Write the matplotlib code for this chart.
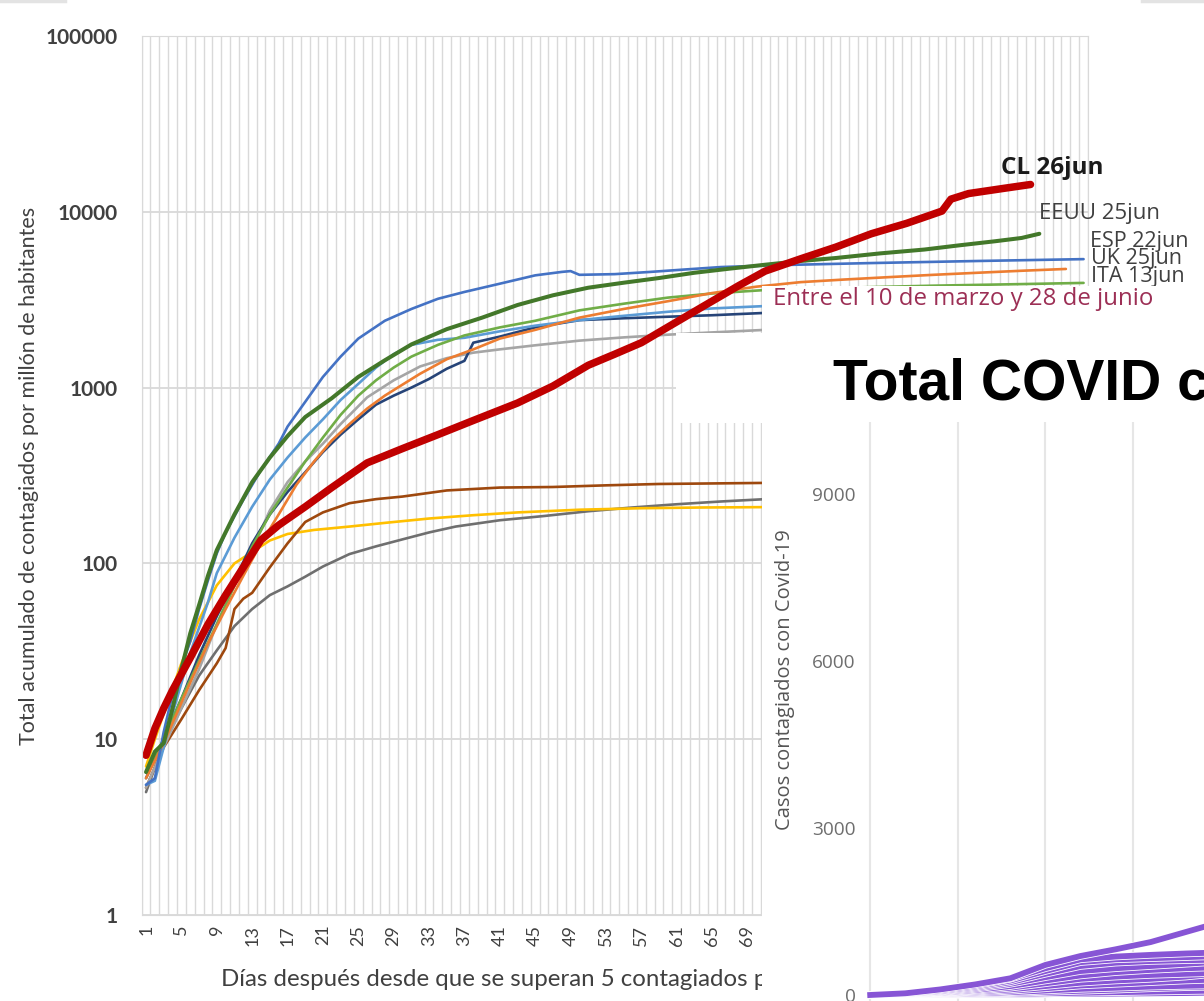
import matplotlib
matplotlib.use("Agg")
import matplotlib.pyplot as plt
from matplotlib.patches import Rectangle
from matplotlib.lines import Line2D
from matplotlib.ticker import NullLocator
from matplotlib import patheffects

plt.rcParams["font.family"] = ["Lato", "DejaVu Sans"]

W, H = 1204, 1001

# Total acumulado de contagiados por millón de habitantes,
# por días desde que se superan 5 contagiados por millón
cl_days = [1, 2, 3, 4, 6, 8, 10, 12, 14, 16, 19, 22, 26, 30, 34, 38, 43, 47, 51, 54,
           57, 60, 64, 68, 71, 75, 79, 83, 87, 90, 91, 92, 94, 98, 101]
cl = [8.1, 11.5, 15, 19, 29, 45, 66, 95, 136, 165, 210, 270, 373, 450, 540, 650, 817,
      1020, 1340, 1550, 1800, 2210, 2900, 3800, 4600, 5400, 6300, 7500, 8600, 9700,
      10100, 11800, 12700, 13600, 14300]

eeuu_days = [1, 2, 3, 4, 5, 6, 7, 8, 9, 11, 13, 15, 17, 19, 22, 25, 28, 31, 35, 39, 43,
             47, 51, 55, 59, 63, 67, 71, 75, 79, 84, 89, 93, 97, 100, 102]
eeuu = [6.5, 8.5, 9.5, 15, 25, 40, 58, 85, 119, 190, 290, 400, 530, 680, 870, 1150,
        1430, 1760, 2150, 2500, 2950, 3350, 3700, 3950, 4200, 4500, 4750, 5000, 5250,
        5460, 5800, 6100, 6450, 6800, 7100, 7500]

esp_days = [1, 2, 3, 4, 5, 6, 7, 8, 9, 10, 12, 14, 16, 17, 19, 21, 23, 25, 28, 31, 34,
            37, 41, 45, 48, 49, 50, 54, 58, 62, 66, 73, 83, 95, 107]
esp = [5.5, 6.0, 11, 18, 26, 36, 55, 80, 114, 150, 230, 340, 480, 600, 830, 1150, 1500,
       1900, 2400, 2800, 3200, 3500, 3900, 4350, 4550, 4600, 4380, 4420, 4550, 4700,
       4850, 4980, 5110, 5250, 5380]

uk_days = [1, 3, 6, 8, 10, 12, 14, 16, 18, 20, 22, 24, 26, 28, 30, 32, 35, 38, 41, 45,
           50, 55, 60, 65, 70, 75, 80, 85, 90, 95, 100, 105]
uk = [6, 9.5, 21, 35, 55, 85, 130, 190, 280, 380, 500, 620, 760, 900, 1040, 1200, 1450,
      1650, 1900, 2130, 2500, 2800, 3100, 3450, 3750, 3980, 4120, 4250, 4380, 4500,
      4620, 4730]

ita_days = [1, 3, 5, 7, 9, 11, 13, 15, 17, 19, 21, 23, 25, 27, 29, 31, 34, 37, 41, 45,
            50, 55, 60, 65, 71, 80, 90, 100, 107]
ita = [6.5, 10, 17, 28, 45, 75, 125, 190, 270, 380, 520, 700, 900, 1100, 1300, 1500,
       1750, 1980, 2200, 2400, 2750, 3000, 3250, 3430, 3590, 3700, 3800, 3880, 3940]

azul_claro_days = [1, 2, 3, 4, 6, 8, 9, 11, 13, 15, 17, 19, 21, 23, 25, 27, 29, 31, 34,
                   37, 41, 45, 50, 55, 60, 65, 71, 76]
azul_claro = [5.5, 5.8, 9, 14, 31, 60, 88, 140, 210, 300, 400, 520, 660, 850, 1050, 1300,
              1550, 1750, 1870, 1920, 2090, 2250, 2420, 2560, 2700, 2820, 2910, 2980]

azul_osc_days = [1, 3, 5, 7, 9, 11, 13, 15, 17, 19, 21, 23, 25, 27, 29, 31, 33, 35, 37,
                 38, 41, 45, 50, 55, 60, 65, 71, 76]
azul_osc = [6, 10, 17, 30, 50, 80, 130, 190, 255, 330, 430, 540, 660, 800, 900, 1000,
            1120, 1280, 1420, 1800, 1950, 2200, 2420, 2480, 2530, 2580, 2660, 2700]

gris_days = [1, 3, 5, 7, 9, 11, 13, 15, 17, 19, 21, 23, 26, 29, 32, 35, 38, 41, 45, 50,
             55, 60, 65, 71, 76]
gris = [5.3, 9, 15, 25, 45, 75, 120, 200, 290, 380, 480, 620, 880, 1100, 1320, 1470,
        1580, 1650, 1740, 1850, 1930, 2000, 2060, 2130, 2160]

cafe_days = [1, 3, 5, 7, 9, 10, 11, 12, 13, 15, 17, 19, 21, 24, 27, 30, 35, 41, 47, 53,
             59, 65, 71, 76]
cafe = [5.3, 9, 13, 19, 27, 33, 55, 63, 68, 95, 130, 172, 195, 220, 232, 240, 260, 270,
        272, 278, 283, 285, 287, 288]

amarillo_days = [1, 2, 3, 5, 7, 9, 11, 13, 15, 17, 20, 24, 28, 33, 38, 43, 50, 57, 64,
                 71, 76]
amarillo = [7, 10, 14, 27, 48, 75, 100, 116, 135, 147, 155, 162, 170, 180, 188, 195, 202,
            206, 208, 209, 210]

gris_osc_days = [1, 3, 5, 7, 9, 11, 13, 15, 17, 19, 21, 24, 27, 30, 33, 36, 41, 46, 51,
                 56, 61, 66, 71, 76]
gris_osc = [5, 9.5, 15, 23, 32, 44, 55, 66, 74, 84, 96, 113, 125, 137, 150, 162, 176,
            186, 198, 208, 217, 225, 232, 236]

y_ticks = [1, 10, 100, 1000, 10000, 100000]
x_ticks = list(range(1, 108, 4))

labels = ["CL 26jun", "EEUU 25jun", "ESP 22jun", "UK 25jun", "ITA 13jun"]

# Casos contagiados con Covid-19 (gráfico superpuesto)
dias_region = [0, 4, 8, 12, 16, 20, 24, 28, 32, 36, 38]
casos_region = [
    [0, 30, 100, 190, 300, 540, 700, 820, 950, 1130, 1220],
    [0, 25, 85, 170, 290, 480, 640, 690, 720, 745, 755],
    [0, 20, 70, 150, 260, 430, 590, 640, 660, 680, 690],
    [0, 18, 60, 130, 230, 380, 520, 580, 610, 625, 630],
    [0, 15, 50, 110, 200, 320, 430, 480, 520, 560, 580],
    [0, 12, 40, 90, 160, 260, 350, 410, 450, 480, 490],
    [0, 10, 35, 75, 130, 210, 290, 330, 360, 380, 390],
    [0, 8, 28, 60, 100, 160, 220, 260, 290, 330, 360],
    [0, 6, 22, 45, 75, 120, 170, 200, 230, 260, 270],
    [0, 5, 15, 30, 50, 80, 110, 130, 150, 165, 170],
    [0, 3, 10, 20, 35, 55, 75, 95, 120, 140, 145],
    [0, 2, 6, 12, 20, 30, 40, 50, 60, 70, 75],
    [0, 1, 3, 6, 10, 15, 20, 25, 30, 35, 40],
]
casos_rm = [0, 1, 3, 8, 20, 50, 90, 120, 170, 180, 185]


def fx(x):
    return x / W


def fy(y):
    return 1 - y / H


fig = plt.figure(figsize=(W / 100, H / 100), dpi=100)

# ---- main log chart ----
ax = fig.add_axes([fx(141.6), fy(915), (1088 - 141.6) / W, (915 - 36) / H])
ax.set_yscale("log")
ax.set_ylim(1, 100000)
ax.set_xlim(0.5, 107.5)

grid_c = "#d9d9d9"
ax.set_xticks(x_ticks)
ax.set_xticklabels([str(d) for d in x_ticks], rotation=90, fontsize=13, color="#404040")
ax.set_xticks([d + 0.5 for d in range(0, 108)], minor=True)
ax.set_yticks(y_ticks)
ax.set_yticklabels([str(v) for v in y_ticks], fontsize=15, fontweight="bold", color="#404040")
ax.yaxis.set_minor_locator(NullLocator())
ax.tick_params(which="both", length=0)
ax.tick_params(axis="y", pad=17)
ax.tick_params(axis="x", pad=7)
ax.grid(which="minor", axis="x", color=grid_c, lw=1)
ax.grid(which="major", axis="y", color=grid_c, lw=1.3)
for s in ax.spines.values():
    s.set_color(grid_c)

ax.set_ylabel("Total acumulado de contagiados por millón de habitantes", fontsize=15.5, color="#404040")
ax.yaxis.set_label_coords(-0.108, 0.5)
ax.set_xlabel("Días después desde que se superan 5 contagiados por millón de habitantes",
              fontsize=17.3, color="#404040")
ax.xaxis.set_label_coords(0.5, -0.062)

series = [
    (gris_osc_days, gris_osc, "#6f6f6f", 1.9),
    (amarillo_days, amarillo, "#FFC000", 1.9),
    (cafe_days, cafe, "#9E480E", 1.9),
    (gris_days, gris, "#A5A5A5", 1.9),
    (azul_osc_days, azul_osc, "#264478", 1.9),
    (azul_claro_days, azul_claro, "#5B9BD5", 1.9),
    (ita_days, ita, "#70AD47", 1.9),
    (uk_days, uk, "#ED7D31", 1.9),
    (esp_days, esp, "#4472C4", 1.9),
    (eeuu_days, eeuu, "#43782a", 2.9),
    (cl_days, cl, "#C00000", 5.4),
]
for d, v, c, lw in series:
    ax.plot(d, v, color=c, lw=lw, solid_capstyle="round", solid_joinstyle="round")

lab_font = ["Open Sans", "DejaVu Sans"]
ax.text(97.7, 17750, labels[0], fontsize=17.5, fontweight="bold", color="#1a1a1a",
        ha="left", va="center", family=lab_font)
ax.text(102, 9840, labels[1], fontsize=16, color="#404040", ha="left", va="center", family=lab_font)
ax.text(107.7, 6820, labels[2], fontsize=15.5, color="#404040", ha="left", va="center", family=lab_font)
ax.text(107.8, 5460, labels[3], fontsize=15.5, color="#404040", ha="left", va="center", family=lab_font)
ax.text(107.8, 4310, labels[4], fontsize=15.5, color="#404040", ha="left", va="center", family=lab_font)


# ---- white panel of the second chart ----
def box(x0, y0, x1, y1):
    r = Rectangle((fx(x0), fy(y1)), (x1 - x0) / W, (y1 - y0) / H, transform=fig.transFigure,
                  facecolor="white", edgecolor="none", zorder=1)
    fig.add_artist(r)


box(762, 286, W, H)
box(676, 333, 762, 423)

fig.text(fx(773), fy(299), "Entre el 10 de marzo y 28 de junio", fontsize=17.3, color="#9c2f55",
         ha="left", va="center", family=lab_font, zorder=3)
fig.text(fx(833), fy(400), "Total COVID c", fontsize=41, fontweight="bold", color="black",
         ha="left", va="baseline", family=["Liberation Sans", "DejaVu Sans"], zorder=3)

ax2 = fig.add_axes([fx(868), 0, (W - 868) / W, (H - 422) / H], zorder=2)
ax2.patch.set_alpha(0)
ax2.set_xlim(-0.25, 38.1)
ax2.set_ylim(-108, 10293)
ax2.set_xticks([0, 10, 20, 30])
ax2.set_xticklabels([])
ax2.set_yticks([0, 3000, 6000, 9000])
ax2.set_yticklabels(["0", "3000", "6000", "9000"], fontsize=13.7, color="#6e6e6e", family=lab_font)
ax2.tick_params(length=0, pad=9)
ax2.grid(axis="x", color="#e6e6e6", lw=1.5)
for s in ax2.spines.values():
    s.set_visible(False)

stroke = [patheffects.withStroke(linewidth=5.4, foreground="white")]
for serie in casos_region[::-1]:
    ax2.plot(dias_region, serie, color="#8755d5", lw=4.2, path_effects=stroke, clip_on=False)
ax2.plot(dias_region, casos_rm, color="#e0245e", lw=3.5, zorder=1.9)

fig.text(fx(785), fy(680), "Casos contagiados con Covid-19", rotation=90, fontsize=14.5,
         color="#555555", ha="center", va="center", family=lab_font, zorder=3)

# screenshot edges
fig.add_artist(Line2D([0, fx(65)], [fy(1), fy(1)], transform=fig.transFigure, color="#e3e3e3", lw=2.5))
fig.add_artist(Line2D([fx(1142), 1], [fy(1), fy(1)], transform=fig.transFigure, color="#e3e3e3", lw=2.5))

fig.savefig("out.png", dpi=100)
